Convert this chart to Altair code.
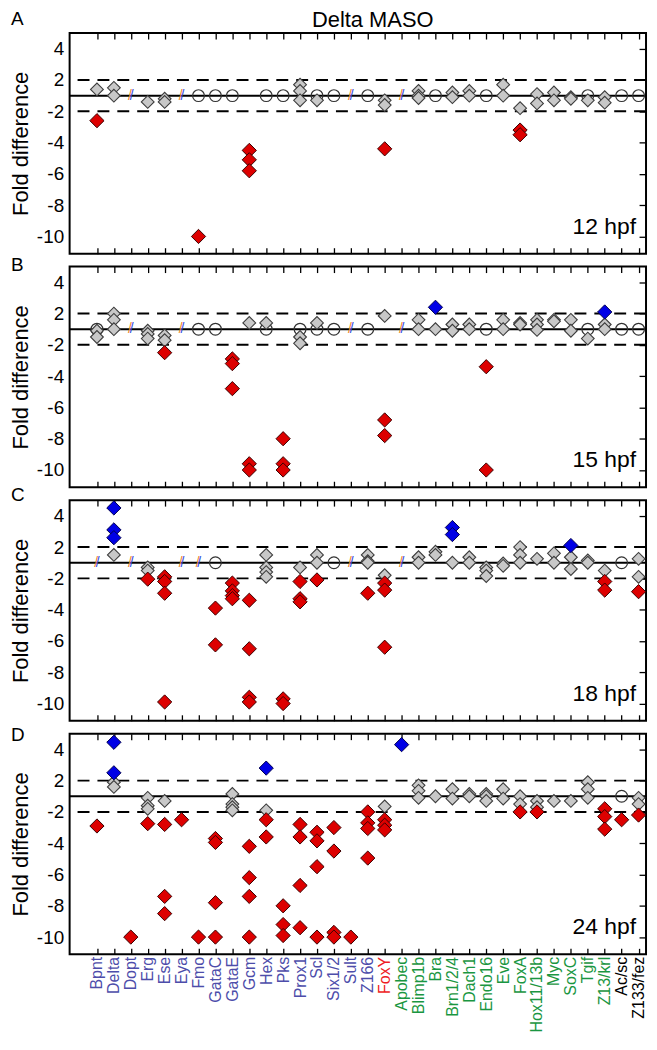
import altair as alt
import pandas as pd

GENES = ["Bpnt", "Delta", "Dopt", "Erg", "Ese", "Eya", "Fmo", "GataC", "GataE", "Gcm",
         "Hex", "Pks", "Prox1", "Scl", "Six1/2", "Sult", "Z166", "FoxY", "Apobec",
         "Blimp1b", "Bra", "Brn1/2/4", "Dach1", "Endo16", "Eve", "FoxA", "Hox11/13b",
         "Myc", "SoxC", "Tgif", "Z13/krl", "Ac/sc", "Z133/fez"]
GENE_GROUP = ["meso"] * 17 + ["foxy"] + ["endo"] * 13 + ["other"] * 2
GROUP_COLORS = {"meso": "#4d4daa", "foxy": "#ee1c24", "endo": "#1a9641", "other": "#000000"}

PANEL_NAMES = ["12 hpf", "15 hpf", "18 hpf", "24 hpf"]
PANEL_LETTERS = ["A", "B", "C", "D"]
Y_TICK_FOLDS = [4, 2, -2, -4, -6, -8, -10]
DASHED_FOLDS = [2, -2]
SOLID_FOLDS = [1]

# ---------------- 12 hpf ----------------
GRAY_12 = {"Bpnt": [1.4], "Delta": [1.5, 1.0], "Erg": [-1.4], "Ese": [-1.2, -1.4],
           "Prox1": [1.7, 1.3, -1.3], "Scl": [-1.3], "FoxY": [-1.3, -1.6],
           "Blimp1b": [1.3, 1.0, -1.15], "Brn1/2/4": [1.2, -1.1], "Dach1": [1.3, 1.0],
           "Eve": [1.7, 1.0], "FoxA": [-1.8], "Hox11/13b": [1.1, -1.5], "Myc": [1.2, -1.3],
           "SoxC": [-1.1, -1.2], "Tgif": [-1.3], "Z13/krl": [-1.1, -1.45]}
RED_12 = {"Bpnt": [-2.6], "Fmo": [-10.0], "Gcm": [-4.5, -5.1, -5.8], "FoxY": [-4.4],
          "FoxA": [-3.2, -3.5]}
BLUE_12 = {}
OPEN_12 = ["Fmo", "GataC", "GataE", "Hex", "Pks", "Scl", "Six1/2", "Z166", "Bra",
           "Endo16", "Tgif", "Ac/sc", "Z133/fez"]
NA_12 = ["Dopt", "Eya", "Sult", "Apobec"]

# ---------------- 15 hpf ----------------
GRAY_15 = {"Bpnt": [-1.1, -1.5], "Delta": [2.0, 1.6, 1.0], "Erg": [-1.1, -1.3, -1.6],
           "Ese": [-1.4, -1.7], "Gcm": [1.4], "Hex": [1.4], "Prox1": [-1.5, -1.9],
           "Scl": [1.4], "FoxY": [1.85], "Blimp1b": [1.6, 1.0], "Bra": [1.0],
           "Brn1/2/4": [1.3, -1.1], "Dach1": [1.3, 1.0], "Eve": [1.6, 1.0],
           "FoxA": [1.4, 1.3], "Hox11/13b": [1.6, 1.3, -1.05], "Myc": [1.6, 1.5],
           "SoxC": [1.6, -1.1], "Tgif": [-1.6], "Z13/krl": [1.3, 1.0]}
RED_15 = {"Ese": [-2.5], "GataE": [-2.9, -3.2, -4.8], "Gcm": [-9.6, -10.0],
          "Pks": [-8.0, -9.6, -10.0], "FoxY": [-6.8, -7.8], "Endo16": [-3.4, -10.0]}
BLUE_15 = {"Bra": [2.4], "Z13/krl": [2.1]}
OPEN_15 = ["Bpnt", "Fmo", "GataC", "Hex", "Prox1", "Scl", "Six1/2", "Z166", "Endo16",
           "Tgif", "Ac/sc", "Z133/fez"]
NA_15 = ["Dopt", "Eya", "Sult", "Apobec"]

# ---------------- 18 hpf ----------------
GRAY_18 = {"Delta": [1.5], "Erg": [-1.3, -1.5], "Ese": [-2.0], "Hex": [1.5, -1.3, -1.6, -1.9],
           "Prox1": [-1.3], "Scl": [1.5, 1.0], "Z166": [1.5, 1.1, 1.0], "FoxY": [-1.8],
           "Blimp1b": [1.35, 1.0], "Bra": [1.7, 1.5], "Brn1/2/4": [1.0], "Dach1": [1.35, 1.0],
           "Endo16": [-1.3, -1.5, -1.85], "Eve": [-1.05, -1.2], "FoxA": [2.0, 1.5, 1.0],
           "Hox11/13b": [1.25], "Myc": [1.6, 1.0], "SoxC": [1.35, -1.4], "Tgif": [1.15, 1.0],
           "Z13/krl": [-1.5], "Z133/fez": [1.25, -1.9]}
RED_18 = {"Erg": [-2.05], "Ese": [-1.9, -2.2, -2.95, -9.9], "GataC": [-3.9, -6.25],
          "GataE": [-2.3, -2.8, -3.1, -3.3], "Gcm": [-3.4, -6.5, -9.6, -9.9],
          "Pks": [-9.7, -10.0], "Prox1": [-2.2, -3.3, -3.5], "Scl": [-2.1], "Z166": [-2.95],
          "FoxY": [-2.3, -2.75, -6.4], "Z13/krl": [-2.2, -2.75], "Z133/fez": [-2.85]}
BLUE_18 = {"Delta": [4.5, 3.1, 2.6], "Brn1/2/4": [3.25, 2.8], "SoxC": [2.1]}
OPEN_18 = ["GataC", "Six1/2", "Ac/sc"]
NA_18 = ["Bpnt", "Dopt", "Eya", "Fmo", "Sult", "Apobec"]

# ---------------- 24 hpf ----------------
GRAY_24 = {"Delta": [1.9, 1.6], "Erg": [-1.1, -1.6, -1.8], "Ese": [-1.3],
           "GataE": [1.15, -1.5, -1.7, -1.9], "Hex": [-1.9], "FoxY": [-1.65],
           "Blimp1b": [1.7, 1.35, -1.1], "Bra": [1.0], "Brn1/2/4": [1.45, -1.15],
           "Dach1": [1.15, 1.0], "Endo16": [1.15, -1.0, -1.3], "Eve": [1.45, -1.15],
           "FoxA": [1.0, -1.5], "Hox11/13b": [-1.3, -1.7], "Myc": [-1.3], "SoxC": [-1.3],
           "Tgif": [1.9, 1.45, -1.1], "Z133/fez": [-1.1, -1.5]}
RED_24 = {"Bpnt": [-2.9], "Dopt": [-10.0], "Erg": [-2.75], "Ese": [-2.8, -7.4, -8.5],
          "Eya": [-2.5], "Fmo": [-10.0], "GataC": [-3.7, -3.95, -7.8, -10.0],
          "Gcm": [-4.2, -6.2, -7.4, -10.0], "Hex": [-2.5, -3.6], "Pks": [-8.0, -9.2, -9.9],
          "Prox1": [-2.8, -3.6, -6.7, -9.4], "Scl": [-3.3, -3.85, -5.5, -10.0],
          "Six1/2": [-3.0, -4.5, -9.7, -10.0], "Sult": [-10.0], "Z166": [-2.0, -2.7, -3.06, -4.95],
          "FoxY": [-2.5, -2.85, -3.15], "FoxA": [-2.0], "Hox11/13b": [-2.0],
          "Z13/krl": [-1.8, -2.3, -3.1], "Ac/sc": [-2.5], "Z133/fez": [-2.2]}
BLUE_24 = {"Delta": [4.45, 2.5], "Hex": [2.8], "Apobec": [4.3]}
OPEN_24 = ["Ac/sc"]
NA_24 = []

PANEL_DATA = [
    (GRAY_12, RED_12, BLUE_12, OPEN_12, NA_12),
    (GRAY_15, RED_15, BLUE_15, OPEN_15, NA_15),
    (GRAY_18, RED_18, BLUE_18, OPEN_18, NA_18),
    (GRAY_24, RED_24, BLUE_24, OPEN_24, NA_24),
]

# ---------------- build tables ----------------
rows = []
for name, (gray, red, blue, open_, na) in zip(PANEL_NAMES, PANEL_DATA):
    for kind, d in (("gray", gray), ("red", red), ("blue", blue)):
        for g, vals in d.items():
            for v in vals:
                rows.append({"panel": name, "gene": g, "idx": GENES.index(g), "fold": v, "kind": kind})
    for g in open_:
        rows.append({"panel": name, "gene": g, "idx": GENES.index(g), "fold": 1.0, "kind": "open"})
    for g in na:
        rows.append({"panel": name, "gene": g, "idx": GENES.index(g), "fold": 1.0, "kind": "na"})
df = pd.DataFrame(rows)

gene_df = pd.DataFrame({"gene": GENES, "idx": list(range(len(GENES))), "fold": 1.0})
lines_df = pd.DataFrame({"fold": DASHED_FOLDS + SOLID_FOLDS,
                         "style": ["dashed"] * len(DASHED_FOLDS) + ["solid"] * len(SOLID_FOLDS)})

T_EXPR = "datum.fold > 0 ? datum.fold - 1 : datum.fold + 1"
Y_TICKS_T = [f - 1 if f > 0 else f + 1 for f in Y_TICK_FOLDS]
Y_LABEL_EXPR = "datum.value > 0 ? datum.value + 1 : datum.value - 1"
X_LABEL_EXPR = "[" + ",".join("'" + g + "'" for g in GENES) + "][datum.value]"

conds = []
for grp in ["meso", "foxy", "endo"]:
    ids = [i for i, gg in enumerate(GENE_GROUP) if gg == grp]
    conds.append({"test": "indexof([" + ",".join(str(i) for i in ids) + "], datum.value) >= 0",
                  "value": GROUP_COLORS[grp]})
LABEL_COLOR = {"condition": conds, "value": GROUP_COLORS["other"]}

XS = alt.Scale(domain=[-1.615, 32.44], nice=False, zero=False)
YS = alt.Scale(domain=[-10.1, 4.0], nice=False, zero=False)
W, H = 580, 222
LETTER_Y = [-8, 4, 1, 7]
FONT = "Liberation Sans"


def make_panel(i):
    name = PANEL_NAMES[i]
    last = i == len(PANEL_NAMES) - 1
    pdf = df[df.panel == name]

    bottom_axis = alt.Axis(orient="bottom", values=list(range(len(GENES))), labels=last,
                           labelExpr=X_LABEL_EXPR, labelAngle=270, labelAlign="right",
                           labelBaseline="middle", labelFontSize=16, labelColor=LABEL_COLOR,
                           labelPadding=2, offset=-6, tickSize=6, tickWidth=1.3,
                           tickColor="black", domain=False, grid=False, title=None,
                           minExtent=0)
    left_axis = alt.Axis(orient="left", values=Y_TICKS_T, labelExpr=Y_LABEL_EXPR, ticks=False,
                         tickSize=0, domain=False, grid=False, labelFontSize=19,
                         labelColor="black", labelPadding=6, title="Fold difference",
                         titleFontSize=22, titleFontWeight="normal", titlePadding=4,
                         titleColor="black")
    top_axis = alt.Axis(orient="top", values=list(range(len(GENES))), labels=False, offset=-6,
                        tickSize=6, tickWidth=1.3, tickColor="black", domain=False, grid=False,
                        title=None, minExtent=0, maxExtent=0)
    right_axis = alt.Axis(orient="right", values=Y_TICKS_T, labels=False, offset=-7, tickSize=7,
                          tickWidth=1.3, tickColor="black", domain=False, grid=False, title=None,
                          minExtent=0, maxExtent=0)

    carrier = alt.Chart(gene_df).transform_calculate(t=T_EXPR).mark_point(opacity=0).encode(
        x=alt.X("idx:Q", scale=XS, axis=top_axis),
        y=alt.Y("t:Q", scale=YS, axis=right_axis))

    dashed = alt.Chart(lines_df).transform_filter("datum.style == 'dashed'").transform_calculate(
        t=T_EXPR).mark_rule(color="black", strokeWidth=2, strokeDash=[12, 8]).encode(
        y=alt.Y("t:Q", scale=YS, axis=None))
    solid = alt.Chart(lines_df).transform_filter("datum.style == 'solid'").transform_calculate(
        t=T_EXPR).mark_rule(color="black", strokeWidth=2).encode(
        y=alt.Y("t:Q", scale=YS, axis=None))

    base = alt.Chart(pdf).transform_calculate(t=T_EXPR)
    x_none = alt.X("idx:Q", scale=XS, axis=None)
    y_none = alt.Y("t:Q", scale=YS, axis=None)

    circles = base.transform_filter("datum.kind == 'open'").mark_point(
        shape="circle", size=140, filled=False, stroke="#333333", strokeWidth=1.2,
        opacity=1).encode(x=x_none, y=y_none)
    slash_o = base.transform_filter("datum.kind == 'na'").mark_text(
        text="/", fontSize=14, color="#f08a20", dx=-0.8, font=FONT).encode(x=x_none, y=y_none)
    slash_b = base.transform_filter("datum.kind == 'na'").mark_text(
        text="/", fontSize=14, color="#2f4fe0", dx=0.8, font=FONT).encode(x=x_none, y=y_none)
    gray = base.transform_filter("datum.kind == 'gray'").mark_point(
        shape="diamond", size=165, filled=True, fill="#c8c8c8", stroke="#3c3c3c",
        strokeWidth=1.1, opacity=1).encode(
        x=alt.X("idx:Q", scale=XS, axis=bottom_axis),
        y=alt.Y("t:Q", scale=YS, axis=left_axis))
    red = base.transform_filter("datum.kind == 'red'").mark_point(
        shape="diamond", size=205, filled=True, fill="#dd0000", stroke="#3a0000",
        strokeWidth=1, opacity=1).encode(x=x_none, y=y_none)
    blue = base.transform_filter("datum.kind == 'blue'").mark_point(
        shape="diamond", size=205, filled=True, fill="#0000e6", stroke="#000050",
        strokeWidth=1, opacity=1).encode(x=x_none, y=y_none)

    letter = alt.Chart(pd.DataFrame({"s": [PANEL_LETTERS[i]]})).mark_text(
        align="left", baseline="alphabetic", fontSize=19, font=FONT, color="black").encode(
        text="s:N", x=alt.value(-59), y=alt.value(LETTER_Y[i]))
    hpf = alt.Chart(pd.DataFrame({"s": [name]})).mark_text(
        align="right", baseline="alphabetic", fontSize=23, font=FONT, color="black").encode(
        text="s:N", x=alt.value(570), y=alt.value(202))

    layers = [carrier, dashed, solid, circles, slash_o, slash_b, gray, red, blue, letter, hpf]
    if i == 0:
        title = alt.Chart(pd.DataFrame({"s": ["Delta MASO"]})).mark_text(
            align="center", baseline="alphabetic", fontSize=22, font=FONT, color="black").encode(
            text="s:N", x=alt.value(305), y=alt.value(-6))
        layers.append(title)
    return alt.layer(*layers).resolve_axis(x="independent", y="independent").properties(
        width=W, height=H)


chart = alt.vconcat(*[make_panel(i) for i in range(4)], spacing=13, bounds="flush").properties(
    padding={"left": 0, "top": -3, "right": 0, "bottom": 0}
).configure(font=FONT).configure_view(stroke="black", strokeWidth=2)

chart.save("out.html", embed_options={"renderer": "svg", "actions": False})
